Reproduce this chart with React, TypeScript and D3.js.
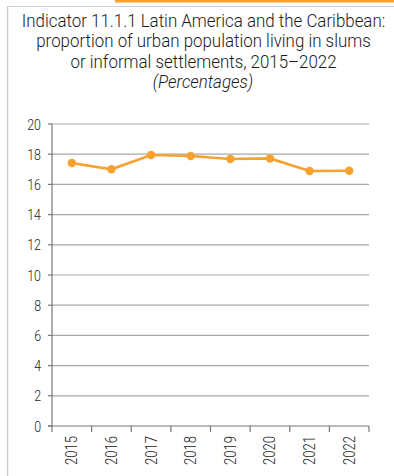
import React from "react";
import * as d3 from "d3";

const years = ["2015", "2016", "2017", "2018", "2019", "2020", "2021", "2022"];
const values = [17.42, 17.0, 17.95, 17.88, 17.68, 17.72, 16.89, 16.9];
const yTicks = [0, 2, 4, 6, 8, 10, 12, 14, 16, 18, 20];
const titleLines = [
  "Indicator 11.1.1 Latin America and the Caribbean:",
  "proportion of urban population living in slums",
  "or informal settlements, 2015–2022",
];
const subtitle = "(Percentages)";

const W = 394;
const H = 476;
const FONT = "Roboto, 'Liberation Sans', sans-serif";
const ORANGE = "#F7A12E";

export default function App() {
  const left = 52, right = 369, top = 124, bottom = 426;
  const x = d3.scaleBand<string>().domain(years).range([left, right]);
  const y = d3.scaleLinear().domain([0, 20]).range([bottom, top]);
  const line = d3
    .line<number>()
    .x((_, i) => (x(years[i]) as number) + x.bandwidth() / 2)
    .y((d) => y(d));
  const edges = [...years.map((yr) => x(yr) as number), right];

  return (
    <svg width={W} height={H} style={{ position: "absolute", left: 0, top: 0, background: "#fff" }}>
      <rect x={115} y={0} width={W - 115} height={2.5} fill={ORANGE} />
      <line x1={7.5} y1={7} x2={7.5} y2={H} stroke="#cfcfcf" strokeWidth={1.5} />
      <line x1={7} y1={6.5} x2={W} y2={6.5} stroke="#cfcfcf" strokeWidth={1} />
      <g fontFamily={FONT} fontWeight={300} fill="#1a1a1a" textAnchor="middle">
        {titleLines.map((t, i) => (
          <g key={i} transform={`translate(203.5,${27 + i * 20.3}) scale(0.89,1)`}>
            <text x={0} y={0} fontSize={19}>
              {t}
            </text>
          </g>
        ))}
        <g transform={`translate(203,88) scale(0.89,1)`}>
          <text x={0} y={0} fontSize={19} fontStyle="italic">
            {subtitle}
          </text>
        </g>
      </g>
      {yTicks.map((t) => (
        <g key={t}>
          {t > 0 && (
            <line x1={left} x2={right} y1={y(t)} y2={y(t)} stroke="#a8a8a8" strokeWidth={1.2} />
          )}
          <line x1={left - 4} x2={left} y1={y(t)} y2={y(t)} stroke="#777" strokeWidth={1.2} />
          <g transform={`translate(${left - 11},${y(t)}) scale(0.8,1)`}>
            <text
              x={0}
              y={0}
              dy="0.36em"
              textAnchor="end"
              fontFamily={FONT}
              fontWeight={300}
              fontSize={15.5}
              fill="#222"
            >
              {t}
            </text>
          </g>
        </g>
      ))}
      <line x1={left} x2={left} y1={top} y2={bottom} stroke="#777" strokeWidth={1.2} />
      <line x1={left - 4} x2={right} y1={bottom} y2={bottom} stroke="#777" strokeWidth={1.2} />
      {edges.map((e, i) => (
        <line key={i} x1={e} x2={e} y1={bottom} y2={bottom + 6} stroke="#777" strokeWidth={1.2} />
      ))}
      {years.map((yr) => {
        const cx = (x(yr) as number) + x.bandwidth() / 2;
        return (
          <g key={yr} transform={`translate(${cx + 5.5},${bottom + 10}) rotate(-90) scale(0.82,1)`}>
            <text
              x={0}
              y={0}
              textAnchor="end"
              fontFamily={FONT}
              fontWeight={300}
              fontSize={16}
              fill="#222"
            >
              {yr}
            </text>
          </g>
        );
      })}
      <path d={line(values) || ""} fill="none" stroke={ORANGE} strokeWidth={2.6} />
      {values.map((v, i) => (
        <circle
          key={i}
          cx={(x(years[i]) as number) + x.bandwidth() / 2}
          cy={y(v)}
          r={4.2}
          fill={ORANGE}
        />
      ))}
    </svg>
  );
}
